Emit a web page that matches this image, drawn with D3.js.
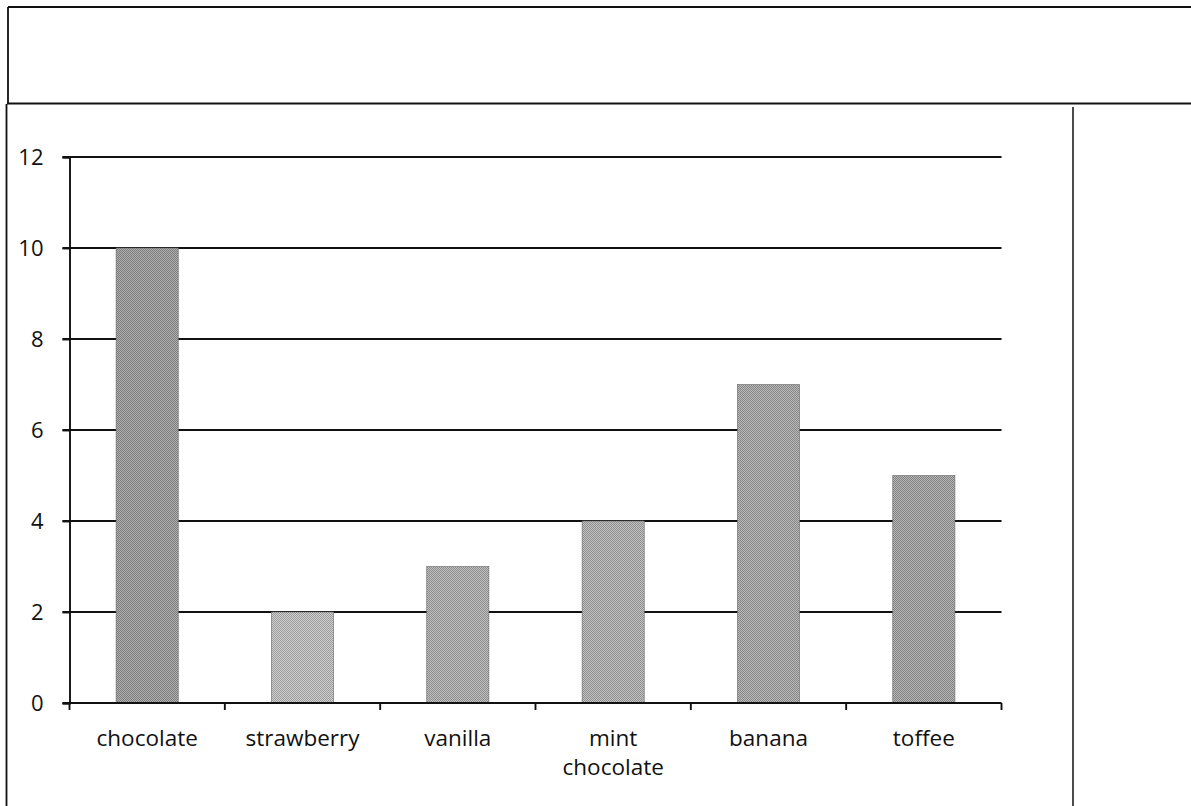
<!DOCTYPE html>
<html>
<head>
<meta charset="utf-8">
<script src="https://cdn.jsdelivr.net/npm/d3@7"></script>
<style>
  html, body { margin: 0; padding: 0; background: #fff; }
  svg { display: block; }
  text { font-family: "Open Sans", "Liberation Sans", sans-serif; fill: #111; }
</style>
</head>
<body>
<svg id="chart" width="1191" height="806"></svg>
<script>
// Favourite ice-cream flavours
const categories = ["chocolate", "strawberry", "vanilla", "mint chocolate", "banana", "toffee"];
const values = [10, 2, 3, 4, 7, 5];
const yTicks = [0, 2, 4, 6, 8, 10, 12];
// per-bar grey tone (dark, light) used for the dithered fill
const tones = [["#7c7c7c", "#b0b0b0"], ["#9c9c9c", "#cecece"], ["#8c8c8c", "#c0c0c0"],
               ["#8e8e8e", "#c2c2c2"], ["#868686", "#bababa"], ["#828282", "#b6b6b6"]];

const svg = d3.select("#chart");
const defs = svg.append("defs");

// dithered grey patterns
tones.forEach((t, i) => {
  const p = defs.append("pattern")
    .attr("id", "dither" + i)
    .attr("width", 4).attr("height", 4)
    .attr("patternUnits", "userSpaceOnUse");
  p.append("rect").attr("width", 4).attr("height", 4).attr("fill", t[1]);
  [[0,0],[2,0],[1,1],[3,1],[0,2],[1,3],[3,3],[2,2]].forEach(([x, y]) => {
    p.append("rect").attr("x", x).attr("y", y).attr("width", 1).attr("height", 1).attr("fill", t[0]);
  });
});

// document table frame
const frame = svg.append("g").attr("stroke", "#111").attr("fill", "none");
frame.append("line").attr("x1", 8).attr("x2", 1191).attr("y1", 7).attr("y2", 7).attr("stroke-width", 2.2);
frame.append("line").attr("x1", 8).attr("x2", 8).attr("y1", 7).attr("y2", 104).attr("stroke-width", 1.8);
frame.append("line").attr("x1", 7).attr("x2", 1191).attr("y1", 103.5).attr("y2", 103.5).attr("stroke-width", 2.2);
frame.append("line").attr("x1", 6.5).attr("x2", 6.5).attr("y1", 104).attr("y2", 806).attr("stroke-width", 1.8);
frame.append("line").attr("x1", 1073).attr("x2", 1073).attr("y1", 107).attr("y2", 806).attr("stroke-width", 1.5);

// scales
const plot = { left: 69.5, right: 1001.5, top: 157, bottom: 703 };
const x = d3.scaleBand().domain(categories)
  .range([plot.left, plot.right]).paddingInner(0.6).paddingOuter(0.3);
const y = d3.scaleLinear().domain([0, 12]).range([plot.bottom, plot.top]);

// horizontal gridlines
svg.append("g").selectAll("line").data(yTicks.filter(d => d > 0)).join("line")
  .attr("x1", plot.left - 7).attr("x2", plot.right)
  .attr("y1", d => y(d)).attr("y2", d => y(d))
  .attr("stroke", "#111").attr("stroke-width", 1.9);

// bars
svg.append("g").selectAll("rect").data(values).join("rect")
  .attr("x", (d, i) => x(categories[i]))
  .attr("width", x.bandwidth())
  .attr("y", d => y(d))
  .attr("height", d => y(0) - y(d))
  .attr("fill", (d, i) => `url(#dither${i})`)
  .attr("stroke", "#666").attr("stroke-width", 0.6);

// y axis
const yAxis = svg.append("g").attr("transform", `translate(${plot.left},0)`)
  .call(d3.axisLeft(y).tickValues(yTicks).tickSize(7).tickPadding(19).tickFormat(d3.format("d")));
yAxis.select(".domain").attr("stroke", "#111").attr("stroke-width", 1.9);
yAxis.selectAll(".tick line").attr("stroke", "#111").attr("stroke-width", 1.9);
yAxis.selectAll("text").attr("font-size", 22).attr("font-family", "Open Sans, sans-serif").attr("fill", "#111");

// x axis with ticks on category boundaries
const step = x.step();
const bounds = categories.map(c => x(c) - step * x.paddingInner() / 2).concat([plot.right]);
svg.append("line").attr("x1", plot.left - 7).attr("x2", plot.right)
  .attr("y1", y(0)).attr("y2", y(0)).attr("stroke", "#111").attr("stroke-width", 1.9);
svg.append("g").selectAll("line").data(bounds).join("line")
  .attr("x1", d => d).attr("x2", d => d)
  .attr("y1", y(0)).attr("y2", y(0) + 7)
  .attr("stroke", "#111").attr("stroke-width", 1.9);

// category labels (wrapped onto separate text lines)
const labelGroups = svg.append("g").selectAll("g").data(categories).join("g");
labelGroups.each(function(d) {
  const g = d3.select(this);
  d.split(" ").forEach((w, i) => {
    g.append("text")
      .attr("x", x(d) + x.bandwidth() / 2)
      .attr("y", 746 + i * 29)
      .attr("text-anchor", "middle")
      .attr("font-size", 22.5)
      .text(w);
  });
});
</script>
</body>
</html>
